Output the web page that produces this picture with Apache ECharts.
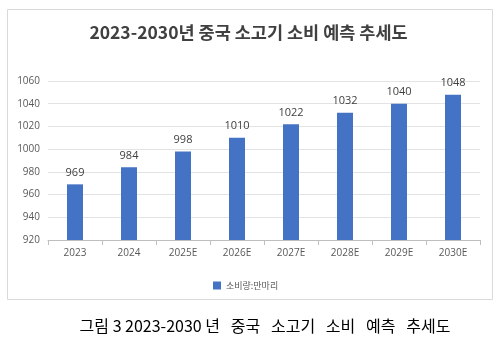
<!DOCTYPE html>
<html>
<head>
<meta charset="utf-8">
<script src="https://cdn.jsdelivr.net/npm/echarts@6/dist/echarts.min.js"></script>
<style>
  html, body { margin: 0; padding: 0; background: #fff; }
  #chart { width: 497px; height: 338px; }
</style>
</head>
<body>
<div id="chart"></div>
<script>
// Forecast of beef consumption in China, 2023-2030
const years = ['2023', '2024', '2025E', '2026E', '2027E', '2028E', '2029E', '2030E'];
const consumption = [969, 984, 998, 1010, 1022, 1032, 1040, 1048];
const seriesName = '소비량:만마리';
const chartTitle = '2023-2030년 중국 소고기 소비 예측 추세도';
const caption = '그림 3 2023-2030 년   중국   소고기   소비   예측   추세도';

const FONT = '"Open Sans", "Noto Sans CJK KR", sans-serif';
const chart = echarts.init(document.getElementById('chart'), null, { renderer: 'canvas' });

chart.setOption({
  animation: false,
  textStyle: { fontFamily: FONT },
  graphic: [{
    type: 'rect',
    shape: { x: 7.5, y: 9.5, width: 485, height: 290 },
    style: { fill: 'none', stroke: '#d9d9d9', lineWidth: 1 },
    z: -1
  }],
  title: [{
    text: chartTitle,
    left: 'center',
    top: 19,
    textStyle: { fontFamily: '"Noto Sans CJK KR", sans-serif', fontSize: 17.5, fontWeight: 'bold', color: '#404040' }
  }, {
    text: caption,
    left: 260,
    textAlign: 'center',
    top: 313,
    textStyle: { fontFamily: '"Noto Sans CJK KR", sans-serif', fontSize: 16, fontWeight: 'normal', color: '#000' }
  }],
  legend: {
    data: [seriesName],
    left: 208,
    top: 276,
    itemWidth: 8,
    itemHeight: 8,
    itemGap: 7,
    icon: 'rect',
    textStyle: { fontFamily: '"Noto Sans CJK KR", sans-serif', fontSize: 9, color: '#595959' }
  },
  grid: { left: 48, right: 17, top: 81, bottom: 98, containLabel: false },
  xAxis: {
    type: 'category',
    data: years,
    axisLine: { lineStyle: { color: '#bfbfbf' } },
    axisTick: { show: true, length: 5, lineStyle: { color: '#bfbfbf' } },
    axisLabel: { color: '#595959', fontSize: 10, margin: 8 }
  },
  yAxis: {
    type: 'value',
    min: 920,
    max: 1060,
    interval: 20,
    axisLine: { show: false },
    axisTick: { show: false },
    axisLabel: { color: '#595959', fontSize: 10, margin: 8, formatter: v => String(v) },
    splitLine: { lineStyle: { color: '#e3e3e3' } }
  },
  series: [{
    name: seriesName,
    type: 'bar',
    data: consumption,
    barWidth: 16,
    itemStyle: { color: '#4472c4' },
    label: { show: true, position: 'top', distance: 6, color: '#404040', fontSize: 11 }
  }]
});
</script>
</body>
</html>
